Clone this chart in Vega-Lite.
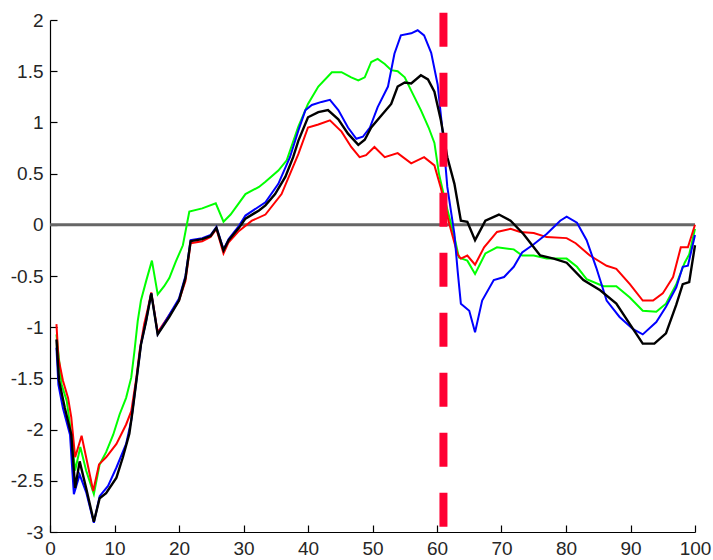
{
  "$schema": "https://vega.github.io/schema/vega-lite/v6.json",
  "width": 645,
  "height": 512,
  "autosize": {"type": "none"},
  "padding": {"left": 50, "top": 20, "right": 18, "bottom": 28},
  "background": "white",
  "config": {
    "view": {"stroke": null},
    "axis": {
      "labelFont": "Liberation Sans",
      "labelFontSize": 19,
      "labelColor": "#262626",
      "labelFlush": false,
      "labelOverlap": false,
      "labelBound": false,
      "domain": true,
      "ticks": true,
      "domainColor": "#000000",
      "domainWidth": 1.2,
      "domainOpacity": 1,
      "tickColor": "#000000",
      "tickWidth": 1.2,
      "tickOpacity": 1,
      "tickSize": -7,
      "grid": false,
      "title": null
    }
  },
  "datasets": {
    "one": [{"k": 1}],
    "green": [
      {"x":1,"y":-1.07},{"x":1.8,"y":-1.56},{"x":2.6,"y":-1.72},{"x":3.3,"y":-2.05},{"x":3.9,"y":-2.4},{"x":4.7,"y":-2.17},{"x":5.6,"y":-2.4},{"x":6.8,"y":-2.63},{"x":7.7,"y":-2.34},{"x":8.7,"y":-2.22},{"x":9.8,"y":-2.05},{"x":10.8,"y":-1.85},{"x":11.8,"y":-1.69},{"x":12.6,"y":-1.49},{"x":13.1,"y":-1.23},{"x":13.6,"y":-0.94},{"x":14.1,"y":-0.74},{"x":14.9,"y":-0.55},{"x":15.8,"y":-0.35},{"x":16.7,"y":-0.68},{"x":17.7,"y":-0.6},{"x":18.5,"y":-0.52},{"x":19.5,"y":-0.36},{"x":20.6,"y":-0.2},{"x":21.6,"y":0.13},{"x":23.6,"y":0.16},{"x":25.7,"y":0.21},{"x":26.9,"y":0.03},{"x":28,"y":0.1},{"x":30.3,"y":0.3},{"x":32.4,"y":0.37},{"x":33.4,"y":0.42},{"x":35.4,"y":0.53},{"x":36.7,"y":0.63},{"x":38.5,"y":0.96},{"x":40,"y":1.18},{"x":41.6,"y":1.35},{"x":43.7,"y":1.49},{"x":45.2,"y":1.49},{"x":46.7,"y":1.44},{"x":47.8,"y":1.41},{"x":48.8,"y":1.44},{"x":49.8,"y":1.59},{"x":50.8,"y":1.62},{"x":51.9,"y":1.57},{"x":52.9,"y":1.51},{"x":53.9,"y":1.5},{"x":55,"y":1.44},{"x":56,"y":1.31},{"x":57.5,"y":1.12},{"x":58.7,"y":0.95},{"x":59.6,"y":0.8},{"x":60.3,"y":0.5},{"x":61.1,"y":0.28},{"x":61.6,"y":0.15},{"x":62.7,"y":-0.12},{"x":63.4,"y":-0.32},{"x":64.7,"y":-0.35},{"x":65.9,"y":-0.48},{"x":67.5,"y":-0.28},{"x":69.3,"y":-0.22},{"x":71.9,"y":-0.24},{"x":73.2,"y":-0.3},{"x":75,"y":-0.3},{"x":77,"y":-0.33},{"x":80.1,"y":-0.33},{"x":81.7,"y":-0.41},{"x":83.2,"y":-0.53},{"x":85.8,"y":-0.6},{"x":87.8,"y":-0.6},{"x":89.9,"y":-0.71},{"x":91.9,"y":-0.84},{"x":94,"y":-0.85},{"x":95.5,"y":-0.77},{"x":97.1,"y":-0.58},{"x":98.4,"y":-0.37},{"x":99.1,"y":-0.29},{"x":100,"y":-0.04}
    ],
    "red": [
      {"x":1,"y":-0.97},{"x":1.3,"y":-1.3},{"x":2,"y":-1.52},{"x":2.8,"y":-1.69},{"x":3.3,"y":-1.88},{"x":3.9,"y":-2.27},{"x":4.9,"y":-2.06},{"x":5.6,"y":-2.27},{"x":6.7,"y":-2.6},{"x":7.6,"y":-2.34},{"x":8.7,"y":-2.27},{"x":10.3,"y":-2.14},{"x":11.8,"y":-1.95},{"x":12.6,"y":-1.82},{"x":13.4,"y":-1.49},{"x":13.9,"y":-1.23},{"x":14.6,"y":-0.97},{"x":15.2,"y":-0.81},{"x":15.7,"y":-0.66},{"x":16.7,"y":-1.05},{"x":20,"y":-0.74},{"x":21,"y":-0.55},{"x":21.8,"y":-0.18},{"x":23.6,"y":-0.16},{"x":24.9,"y":-0.12},{"x":25.8,"y":-0.04},{"x":26.9,"y":-0.28},{"x":27.7,"y":-0.17},{"x":29.3,"y":-0.06},{"x":31.3,"y":0.04},{"x":33.4,"y":0.1},{"x":35.9,"y":0.3},{"x":38.5,"y":0.69},{"x":40,"y":0.95},{"x":41.6,"y":0.98},{"x":43.4,"y":1.02},{"x":45.2,"y":0.91},{"x":46.7,"y":0.76},{"x":48,"y":0.66},{"x":49,"y":0.68},{"x":50.3,"y":0.76},{"x":51.9,"y":0.66},{"x":53.9,"y":0.7},{"x":56,"y":0.6},{"x":58,"y":0.66},{"x":59.6,"y":0.58},{"x":60.6,"y":0.36},{"x":61.9,"y":0.01},{"x":63.2,"y":-0.29},{"x":63.7,"y":-0.33},{"x":64.7,"y":-0.3},{"x":65.9,"y":-0.39},{"x":67.3,"y":-0.22},{"x":69.3,"y":-0.07},{"x":71.4,"y":-0.04},{"x":72.9,"y":-0.07},{"x":75,"y":-0.08},{"x":77,"y":-0.12},{"x":80.1,"y":-0.13},{"x":81.5,"y":-0.18},{"x":83.7,"y":-0.3},{"x":86.3,"y":-0.4},{"x":87.8,"y":-0.43},{"x":89.9,"y":-0.58},{"x":91.9,"y":-0.74},{"x":93.5,"y":-0.74},{"x":95,"y":-0.67},{"x":96.6,"y":-0.51},{"x":97.8,"y":-0.22},{"x":98.9,"y":-0.22},{"x":100,"y":0}
    ],
    "blue": [
      {"x":1,"y":-1.2},{"x":1.3,"y":-1.56},{"x":2,"y":-1.79},{"x":3.1,"y":-2.05},{"x":3.7,"y":-2.63},{"x":4.6,"y":-2.44},{"x":5.6,"y":-2.61},{"x":6.8,"y":-2.91},{"x":7.7,"y":-2.65},{"x":9,"y":-2.55},{"x":10.3,"y":-2.37},{"x":11.8,"y":-2.14},{"x":12.6,"y":-1.91},{"x":13.4,"y":-1.52},{"x":14.1,"y":-1.17},{"x":14.9,"y":-0.94},{"x":15.7,"y":-0.67},{"x":16.7,"y":-1.07},{"x":20,"y":-0.72},{"x":21,"y":-0.5},{"x":21.8,"y":-0.15},{"x":23.6,"y":-0.13},{"x":24.9,"y":-0.1},{"x":25.8,"y":-0.02},{"x":26.9,"y":-0.24},{"x":27.7,"y":-0.14},{"x":29.3,"y":-0.01},{"x":30.3,"y":0.09},{"x":33.4,"y":0.22},{"x":35.4,"y":0.4},{"x":37.2,"y":0.66},{"x":38.5,"y":0.92},{"x":39.6,"y":1.12},{"x":40.6,"y":1.17},{"x":42.1,"y":1.2},{"x":43.4,"y":1.22},{"x":44.7,"y":1.12},{"x":46.2,"y":0.95},{"x":47.5,"y":0.84},{"x":48.5,"y":0.86},{"x":49.6,"y":0.95},{"x":50.8,"y":1.15},{"x":52.4,"y":1.35},{"x":53.4,"y":1.67},{"x":54.4,"y":1.85},{"x":56,"y":1.87},{"x":57,"y":1.9},{"x":58,"y":1.85},{"x":59.1,"y":1.68},{"x":60.1,"y":1.37},{"x":60.9,"y":0.89},{"x":61.6,"y":0.37},{"x":62.7,"y":-0.09},{"x":63.2,"y":-0.45},{"x":63.7,"y":-0.77},{"x":65,"y":-0.84},{"x":65.9,"y":-1.05},{"x":67,"y":-0.74},{"x":68.8,"y":-0.54},{"x":70.4,"y":-0.51},{"x":71.9,"y":-0.41},{"x":73.2,"y":-0.27},{"x":75,"y":-0.19},{"x":77,"y":-0.09},{"x":79.1,"y":0.04},{"x":80.1,"y":0.08},{"x":81.7,"y":0.02},{"x":83.2,"y":-0.15},{"x":84.7,"y":-0.42},{"x":86.3,"y":-0.74},{"x":88.3,"y":-0.9},{"x":90.4,"y":-1.02},{"x":91.9,"y":-1.07},{"x":94,"y":-0.95},{"x":95.5,"y":-0.8},{"x":97.1,"y":-0.61},{"x":98.1,"y":-0.41},{"x":98.9,"y":-0.4},{"x":100,"y":-0.1}
    ],
    "black": [
      {"x":1,"y":-1.12},{"x":1.4,"y":-1.52},{"x":2.3,"y":-1.79},{"x":3.3,"y":-2.05},{"x":3.9,"y":-2.57},{"x":4.6,"y":-2.31},{"x":5.6,"y":-2.57},{"x":6.8,"y":-2.9},{"x":7.7,"y":-2.67},{"x":8.7,"y":-2.62},{"x":10.3,"y":-2.47},{"x":11.3,"y":-2.27},{"x":12.3,"y":-2.04},{"x":12.8,"y":-1.82},{"x":13.4,"y":-1.52},{"x":14.1,"y":-1.17},{"x":14.9,"y":-0.94},{"x":15.7,"y":-0.67},{"x":16.7,"y":-1.07},{"x":18.5,"y":-0.9},{"x":20,"y":-0.74},{"x":21,"y":-0.52},{"x":21.8,"y":-0.16},{"x":23.6,"y":-0.14},{"x":24.9,"y":-0.11},{"x":25.8,"y":-0.03},{"x":26.9,"y":-0.25},{"x":27.7,"y":-0.15},{"x":29.3,"y":-0.03},{"x":30.3,"y":0.06},{"x":32.4,"y":0.14},{"x":33.4,"y":0.19},{"x":34.9,"y":0.3},{"x":36.5,"y":0.47},{"x":37.7,"y":0.66},{"x":38.5,"y":0.82},{"x":40,"y":1.05},{"x":41.6,"y":1.1},{"x":43.1,"y":1.12},{"x":44.7,"y":1.03},{"x":46.2,"y":0.89},{"x":47.8,"y":0.78},{"x":48.8,"y":0.83},{"x":49.8,"y":0.95},{"x":51.4,"y":1.07},{"x":52.9,"y":1.18},{"x":53.9,"y":1.35},{"x":55,"y":1.39},{"x":56,"y":1.38},{"x":57.5,"y":1.46},{"x":58.6,"y":1.42},{"x":59.6,"y":1.3},{"x":60.6,"y":1.02},{"x":61.6,"y":0.66},{"x":62.7,"y":0.4},{"x":63.7,"y":0.04},{"x":64.7,"y":0.03},{"x":65.9,"y":-0.15},{"x":67.5,"y":0.04},{"x":69.6,"y":0.1},{"x":71.4,"y":0.04},{"x":73.4,"y":-0.09},{"x":76,"y":-0.3},{"x":78.1,"y":-0.33},{"x":80.1,"y":-0.37},{"x":82.7,"y":-0.54},{"x":85.3,"y":-0.64},{"x":87.8,"y":-0.77},{"x":89.9,"y":-0.97},{"x":91.9,"y":-1.16},{"x":93.7,"y":-1.16},{"x":95.5,"y":-1.06},{"x":97.1,"y":-0.78},{"x":98.1,"y":-0.58},{"x":99.1,"y":-0.56},{"x":100,"y":-0.2}
    ]
  },
  "layer": [
    {
      "data": {"name": "one"},
      "mark": {"type": "rule", "color": "#666666", "strokeWidth": 3},
      "encoding": {
        "x": {"datum": 0, "type": "quantitative", "scale": {"domain": [0, 100], "nice": false},
              "axis": {"values": [0,10,20,30,40,50,60,70,80,90,100], "labelPadding": 14}},
        "x2": {"datum": 100},
        "y": {"datum": 0, "type": "quantitative", "scale": {"domain": [-3, 2], "nice": false},
              "axis": {"values": [-3,-2.5,-2,-1.5,-1,-0.5,0,0.5,1,1.5,2], "labelExpr": "'' + datum.value", "labelPadding": 14}}
      }
    },
    {
      "data": {"name": "green"},
      "mark": {"type": "line", "color": "#00ff00", "strokeWidth": 2},
      "encoding": {"x": {"field": "x", "type": "quantitative"}, "y": {"field": "y", "type": "quantitative"}}
    },
    {
      "data": {"name": "red"},
      "mark": {"type": "line", "color": "#ff0000", "strokeWidth": 2},
      "encoding": {"x": {"field": "x", "type": "quantitative"}, "y": {"field": "y", "type": "quantitative"}}
    },
    {
      "data": {"name": "blue"},
      "mark": {"type": "line", "color": "#0000ff", "strokeWidth": 2},
      "encoding": {"x": {"field": "x", "type": "quantitative"}, "y": {"field": "y", "type": "quantitative"}}
    },
    {
      "data": {"name": "black"},
      "mark": {"type": "line", "color": "#000000", "strokeWidth": 2.4},
      "encoding": {"x": {"field": "x", "type": "quantitative"}, "y": {"field": "y", "type": "quantitative"}}
    },
    {
      "data": {"name": "one"},
      "mark": {"type": "rule", "color": "#ff0033", "strokeWidth": 8, "strokeDash": [34, 26], "strokeCap": "butt"},
      "encoding": {
        "x": {"datum": 61, "type": "quantitative"},
        "y": {"datum": 2.07, "type": "quantitative"},
        "y2": {"datum": -3}
      }
    }
  ]
}
